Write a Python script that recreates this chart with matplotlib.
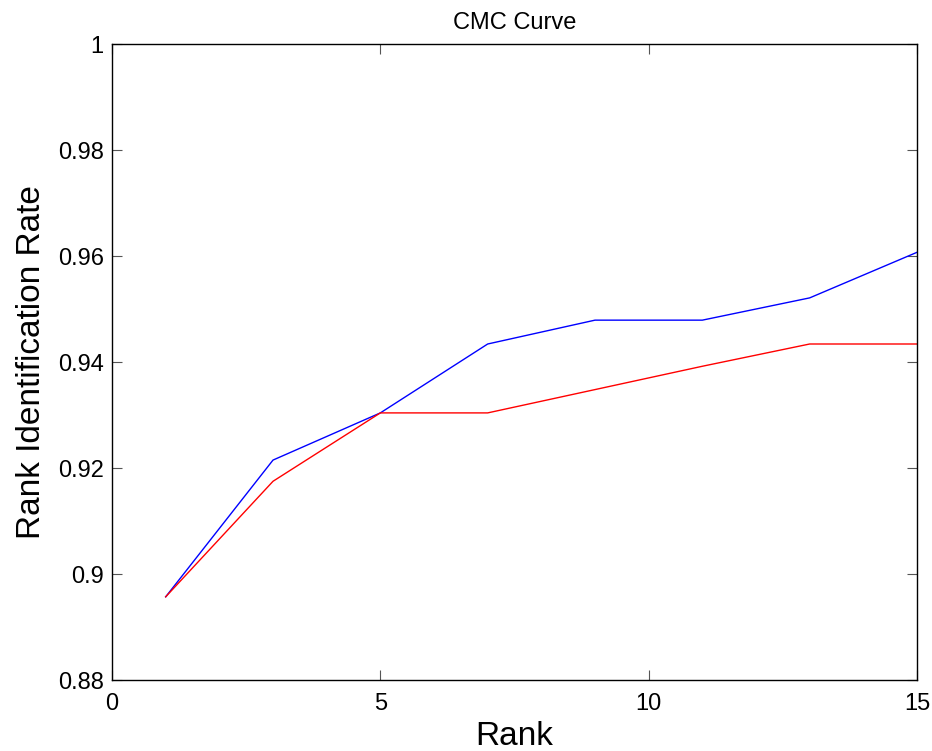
import matplotlib
matplotlib.use("Agg")
import matplotlib.pyplot as plt

# CMC ranks and identification rates for the two methods
ranks = [1, 3, 5, 7, 9, 11, 13, 15]
rate_blue = [0.8957, 0.9215, 0.9304, 0.9434, 0.9479, 0.9479, 0.9521, 0.9607]
rate_red = [0.8957, 0.9175, 0.9304, 0.9304, 0.9348, 0.9392, 0.9434, 0.9434]

xticks = [0, 5, 10, 15]
yticks = [0.88, 0.9, 0.92, 0.94, 0.96, 0.98, 1.0]
ytick_labels = ["0.88", "0.9", "0.92", "0.94", "0.96", "0.98", "1"]

plt.rcParams["font.family"] = ["Liberation Sans", "DejaVu Sans"]

fig = plt.figure(figsize=(9.32, 7.51), dpi=100)
ax = fig.add_axes([0.1202, 0.0945, 0.8637, 0.8469])

ax.plot(ranks, rate_blue, color="#0000ff", linewidth=1.0)
ax.plot(ranks, rate_red, color="#ff0000", linewidth=1.0)

ax.set_xlim(0, 15)
ax.set_ylim(0.88, 1.0)
ax.set_xticks(xticks)
ax.set_yticks(yticks)
ax.set_yticklabels(ytick_labels)
ax.tick_params(direction="in", top=True, right=True, length=7, width=0.8,
               labelsize=17, color="#555555")
ax.tick_params(axis="y", pad=6)
ax.tick_params(axis="x", pad=9)
for s in ax.spines.values():
    s.set_linewidth(1.0)

ax.set_title("CMC Curve", fontsize=17, pad=11)
ax.set_xlabel("Rank", fontsize=24, labelpad=5)
ax.set_ylabel("Rank Identification Rate", fontsize=24, labelpad=8)

fig.savefig("out.png", dpi=100)
